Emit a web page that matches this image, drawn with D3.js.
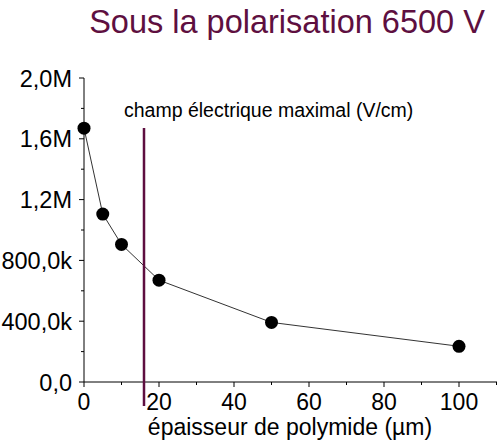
<!DOCTYPE html>
<html>
<head>
<meta charset="utf-8">
<script src="https://cdn.jsdelivr.net/npm/d3@7"></script>
<style>
  body { margin: 0; background: #fff; }
  svg { display: block; font-family: "Liberation Sans", Arial, sans-serif; }
</style>
</head>
<body>
<svg id="chart" width="497" height="442"></svg>
<script>
// Polymide thickness (µm) and maximum electric field (V/cm)
const thickness = [0, 5, 10, 20, 50, 100];
const fieldMax = [1670000, 1105000, 905000, 670000, 392000, 235000];
const xTicks = [0, 20, 40, 60, 80, 100];
const yTicks = [0, 400000, 800000, 1200000, 1600000, 2000000];
const yTickLabels = ["0,0", "400,0k", "800,0k", "1,2M", "1,6M", "2,0M"];
const markerThickness = 16;

const svg = d3.select("#chart");
const plum = "#5e0f40";

const x = d3.scaleLinear().domain([0, 100]).range([84, 459]);
const y = d3.scaleLinear().domain([0, 2000000]).range([382, 78]);

// title
svg.append("text").attr("x", 287).attr("y", 33).attr("text-anchor", "middle")
  .attr("font-size", 32.5).attr("fill", plum).text("Sous la polarisation 6500 V");

// axes
const xAxis = svg.append("g").attr("transform", "translate(0,382)");
xAxis.append("line").attr("x1", x(0)).attr("x2", 497).attr("stroke", "#000");
const xMinor = d3.range(0, 111, 10);
xAxis.selectAll(".xt").data(xMinor).join("line")
  .attr("x1", d => x(d)).attr("x2", d => x(d))
  .attr("y1", 0).attr("y2", d => d % 20 === 0 ? 5 : 3).attr("stroke", "#000");
xAxis.selectAll(".xl").data(xTicks).join("text")
  .attr("x", d => x(d)).attr("y", 27.5).attr("text-anchor", "middle")
  .attr("font-size", 23).attr("fill", "#000").text(d => d);

const yAxis = svg.append("g").attr("transform", "translate(84,0)");
yAxis.append("line").attr("y1", y(0)).attr("y2", y(2000000)).attr("stroke", "#000");
const yMinor = d3.range(0, 2000001, 200000);
yAxis.selectAll(".yt").data(yMinor).join("line")
  .attr("y1", d => y(d)).attr("y2", d => y(d))
  .attr("x1", 0).attr("x2", (d, i) => i % 2 === 0 ? -5 : -3).attr("stroke", "#000");
yAxis.selectAll(".yl").data(yTicks).join("text")
  .attr("x", -12).attr("y", d => y(d) + 8.5).attr("text-anchor", "end")
  .attr("font-size", 23.5).attr("fill", "#000").text((d, i) => yTickLabels[i]);

// axis title
svg.append("text").attr("x", 290).attr("y", 435).attr("text-anchor", "middle")
  .attr("font-size", 23).attr("fill", "#000").text("épaisseur de polymide (µm)");

// series label
svg.append("text").attr("x", 124).attr("y", 117)
  .attr("font-size", 19.5).attr("fill", "#000").text("champ électrique maximal (V/cm)");

// data line and markers
const pts = thickness.map((t, i) => [t, fieldMax[i]]);
svg.append("path").datum(pts)
  .attr("d", d3.line().x(d => x(d[0])).y(d => y(d[1])))
  .attr("fill", "none").attr("stroke", "#333").attr("stroke-width", 1);
svg.selectAll(".pt").data(pts).join("circle")
  .attr("cx", d => x(d[0])).attr("cy", d => y(d[1])).attr("r", 6.5).attr("fill", "#000");

// vertical marker line
svg.append("line").attr("x1", x(markerThickness)).attr("x2", x(markerThickness))
  .attr("y1", 128).attr("y2", 406).attr("stroke", plum).attr("stroke-width", 2.5);
</script>
</body>
</html>
